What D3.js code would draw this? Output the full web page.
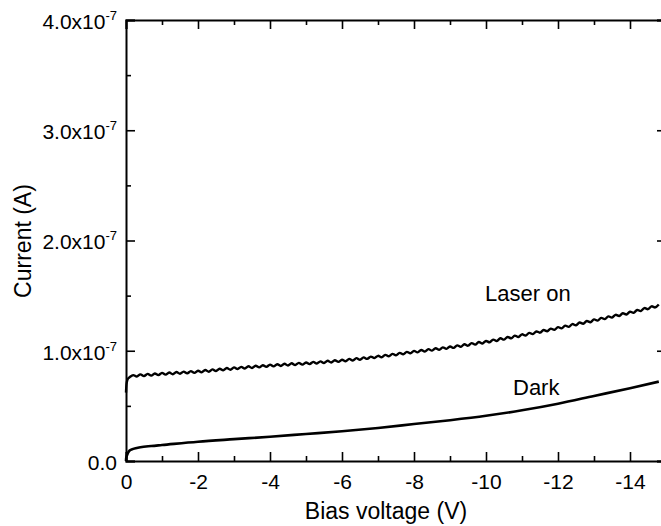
<!DOCTYPE html>
<html>
<head>
<meta charset="utf-8">
<script src="https://cdn.jsdelivr.net/npm/d3@7"></script>
<style>
  html, body { margin: 0; padding: 0; background: #fff; }
  svg { display: block; font-family: "Liberation Sans", Arial, sans-serif; }
</style>
</head>
<body>
<svg id="chart" width="661" height="526"></svg>
<script>
// Dark current sweep: bias (V) and current (nA)
const darkV  = [0, -0.005, -0.02, -0.05, -0.1, -0.2, -0.4, -0.7, -1, -2, -3, -4, -5, -6, -7, -8, -9, -10, -11, -12, -13, -14, -14.8];
const darkNA = [0, 2.5, 4.5, 7, 9.5, 11, 12.5, 13.6, 14.5, 17.5, 19.8, 22, 24.5, 27, 30, 33.5, 37, 41, 46, 52, 59, 66, 72];

// Illuminated sweep: onset points, then the 0.1 V-step sweep from -0.2 V to -14.8 V
const laserOnsetV  = [0, -0.02, -0.05, -0.1];
const laserOnsetNA = [62, 71, 74.5, 76];
const laserSweepStart = -0.2, laserSweepStep = -0.1;
const laserSweepNA = [
  77.9, 76.6, 78.6, 77.0, 79.0, 77.4, 79.4, 77.9, 79.9,
  78.3, 80.3, 78.7, 80.7, 79.1, 81.1, 79.5, 81.5, 79.9, 81.9,
  80.4, 82.5, 81.0, 83.1, 81.6, 83.7, 82.2, 84.3, 82.8, 84.9,
  83.4, 85.4, 83.9, 85.9, 84.4, 86.4, 84.9, 86.9, 85.4, 87.4,
  85.8, 87.8, 86.2, 88.2, 86.6, 88.6, 87.0, 89.0, 87.4, 89.4,
  87.9, 89.9, 88.4, 90.4, 88.9, 90.9, 89.4, 91.4, 89.9, 91.9,
  90.5, 92.6, 91.2, 93.3, 91.9, 94.0, 92.6, 94.7, 93.3, 95.4,
  94.1, 96.3, 95.0, 97.2, 95.9, 98.1, 96.8, 99.0, 97.7, 99.9,
  98.5, 100.7, 99.3, 101.5, 100.1, 102.3, 100.9, 103.1, 101.7, 103.9,
  102.6, 104.9, 103.6, 105.9, 104.6, 106.9, 105.6, 107.9, 106.6, 108.9,
  107.7, 110.1, 108.9, 111.3, 110.1, 112.5, 111.3, 113.7, 112.5, 114.9,
  113.8, 116.2, 115.1, 117.5, 116.4, 118.8, 117.7, 120.1, 119.0, 121.4,
  120.3, 122.8, 121.7, 124.2, 123.1, 125.6, 124.5, 127.0, 125.9, 128.4,
  127.3, 129.8, 128.7, 131.2, 130.1, 132.6, 131.5, 134.0, 132.9, 135.4,
  134.4, 137.0, 136.0, 138.7, 137.7, 140.3, 139.3, 141.9
];

// Axis ticks
const xMajorTicks = [0, -2, -4, -6, -8, -10, -12, -14];
const xMinorTicks = [-1, -3, -5, -7, -9, -11, -13, -15];
const yMajorTicks = [0, 1e-7, 2e-7, 3e-7, 4e-7];
const yMinorTicks = [0.5e-7, 1.5e-7, 2.5e-7, 3.5e-7];
const yTickMantissa = ["0.0", "1.0x10", "2.0x10", "3.0x10", "4.0x10"];
const yTickExponent = ["", "-7", "-7", "-7", "-7"];

const toA = nA => nA * 1e-9;

const dark = darkV.map((v, i) => [v, toA(darkNA[i])]);
const laser = laserOnsetV.map((v, i) => [v, toA(laserOnsetNA[i])])
  .concat(laserSweepNA.map((c, i) => [laserSweepStart + i * laserSweepStep, toA(c)]));

const svg = d3.select("#chart");
const L = 126, R = 666, T = 20, B = 461;

const x = d3.scaleLinear().domain([0, -15]).range([L, R]);
const y = d3.scaleLinear().domain([0, 4e-7]).range([B, T]);

const majorLen = 9, minorLen = 5;
const tickFont = 21;

function styleAxis(g) {
  g.select(".domain").attr("stroke", "#000").attr("stroke-width", 2);
  g.selectAll(".tick line").attr("stroke", "#000").attr("stroke-width", 1.6);
}

// Bottom axis
const gB = svg.append("g").attr("transform", `translate(0,${B})`)
  .call(d3.axisBottom(x).tickValues(xMajorTicks).tickSize(-majorLen).tickPadding(13)
    .tickFormat(d => d === 0 ? "0" : "-" + Math.abs(d)))
  .call(styleAxis);
gB.attr("font-size", tickFont).attr("font-family", "Liberation Sans, Arial, sans-serif");
gB.selectAll("text").attr("fill", "#000");
svg.append("g").attr("transform", `translate(0,${B})`)
  .call(d3.axisBottom(x).tickValues(xMinorTicks).tickSize(-minorLen).tickFormat(""))
  .call(styleAxis).select(".domain").remove();

// Top axis
svg.append("g").attr("transform", `translate(0,${T})`)
  .call(d3.axisTop(x).tickValues(xMajorTicks).tickSize(-majorLen).tickFormat(""))
  .call(styleAxis);
svg.append("g").attr("transform", `translate(0,${T})`)
  .call(d3.axisTop(x).tickValues(xMinorTicks).tickSize(-minorLen).tickFormat(""))
  .call(styleAxis).select(".domain").remove();

// Left axis
const gL = svg.append("g").attr("transform", `translate(${L},0)`)
  .call(d3.axisLeft(y).tickValues(yMajorTicks).tickSize(-majorLen).tickPadding(9).tickFormat(""))
  .call(styleAxis);
gL.attr("font-size", tickFont).attr("font-family", "Liberation Sans, Arial, sans-serif");
gL.selectAll(".tick text").each(function(d, i) {
  const t = d3.select(this).attr("fill", "#000").attr("dy", "0.4em");
  t.append("tspan").text(yTickMantissa[i]);
  if (yTickExponent[i]) {
    t.append("tspan").attr("font-size", 13).attr("dy", -9).text(yTickExponent[i]);
  }
});
svg.append("g").attr("transform", `translate(${L},0)`)
  .call(d3.axisLeft(y).tickValues(yMinorTicks).tickSize(-minorLen).tickFormat(""))
  .call(styleAxis).select(".domain").remove();

// Right axis
svg.append("g").attr("transform", `translate(${R},0)`)
  .call(d3.axisRight(y).tickValues(yMajorTicks).tickSize(-majorLen).tickFormat(""))
  .call(styleAxis);
svg.append("g").attr("transform", `translate(${R},0)`)
  .call(d3.axisRight(y).tickValues(yMinorTicks).tickSize(-minorLen).tickFormat(""))
  .call(styleAxis).select(".domain").remove();

// Curves
const darkLine = d3.line().x(d => x(d[0])).y(d => y(d[1])).curve(d3.curveMonotoneX);
const laserLine = d3.line().x(d => x(d[0])).y(d => y(d[1])).curve(d3.curveCatmullRom);
svg.append("path").datum(dark).attr("d", darkLine)
  .attr("fill", "none").attr("stroke", "#000").attr("stroke-width", 2.6);
svg.append("path").datum(laser).attr("d", laserLine)
  .attr("fill", "none").attr("stroke", "#000").attr("stroke-width", 2.4);

// Curve annotations
svg.append("text").attr("x", 485).attr("y", 301).attr("font-size", 22).text("Laser on");
svg.append("text").attr("x", 513).attr("y", 395).attr("font-size", 22).text("Dark");

// Axis titles
svg.append("text").attr("x", 386).attr("y", 519).attr("text-anchor", "middle")
  .attr("font-size", 23).text("Bias voltage (V)");
svg.append("text").attr("transform", "translate(31,241) rotate(-90)")
  .attr("text-anchor", "middle").attr("font-size", 23).text("Current (A)");
</script>
</body>
</html>
